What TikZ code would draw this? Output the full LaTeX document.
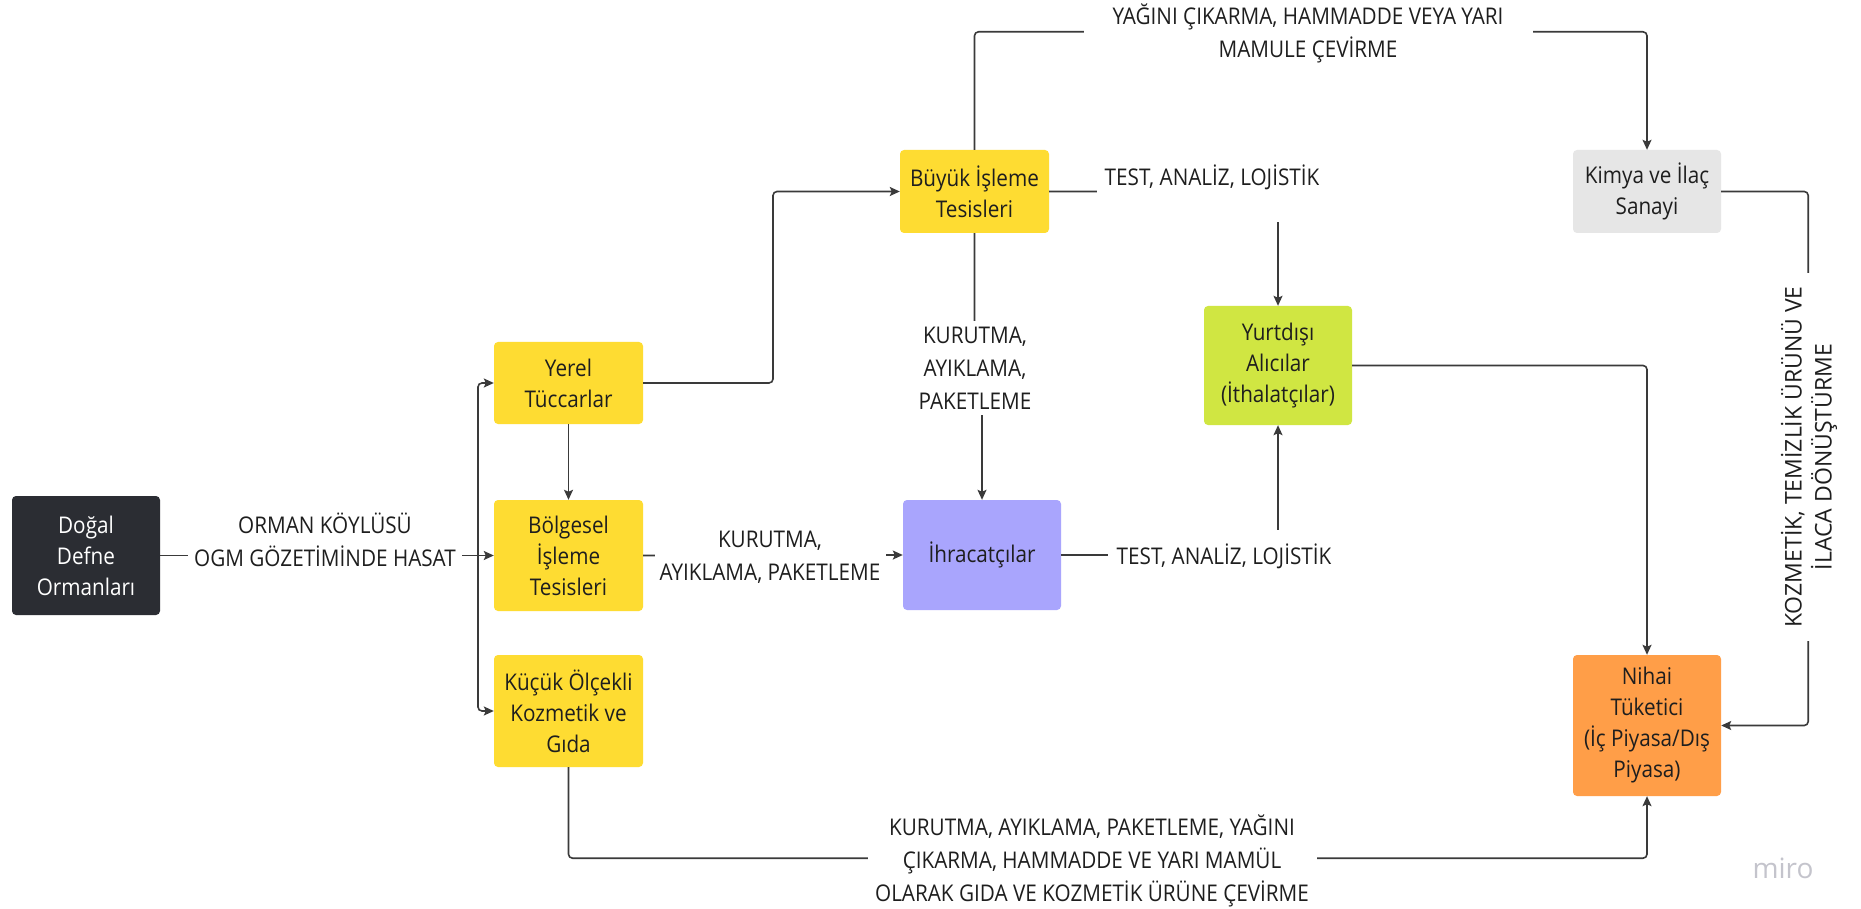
\documentclass[tikz,border=0pt]{standalone}
\usepackage{fontspec}
\setmainfont{Open Sans}[FakeStretch=0.9]
\newfontfamily\vfont{Open Sans}
\usetikzlibrary{arrows.meta}
\definecolor{ink}{HTML}{1E1E1E}
\definecolor{wire}{HTML}{3A3A3A}
\definecolor{ylw}{HTML}{FEDC32}
\definecolor{dark}{HTML}{2B2D33}
\definecolor{purp}{HTML}{A9A5FD}
\definecolor{lime}{HTML}{D0E642}
\definecolor{lgray}{HTML}{E6E6E6}
\definecolor{orng}{HTML}{FF9E48}
\definecolor{wm}{HTML}{C4C4CC}
\tikzset{
  box/.style={rounded corners=4pt, align=center, inner sep=0pt, text=ink,
    font=\fontsize{23}{31}\selectfont},
  lbl/.style={fill=white, align=center, inner sep=0pt, text=ink,
    font=\fontsize{23}{33}\selectfont},
  wireline/.style={draw=wire, line width=1.6pt, rounded corners=4pt},
  arr/.style={wireline, -{Stealth[length=10pt,width=9pt,inset=2pt]}}
}
\begin{document}
\begin{tikzpicture}[x=1pt,y=-1pt]
\useasboundingbox[fill=white] (0,0) rectangle (1861,909);

% boxes
\node[box, fill=dark, text=white, minimum width=148, minimum height=119] (dogal) at (86,555.5) {Doğal\\Defne\\Ormanları};
\node[box, fill=ylw, minimum width=149, minimum height=82] (yerel) at (568.5,383) {Yerel\\Tüccarlar};
\node[box, fill=ylw, minimum width=149, minimum height=111] (bolge) at (568.5,555.5) {Bölgesel\\İşleme\\Tesisleri};
\node[box, fill=ylw, minimum width=149, minimum height=112] (kucuk) at (568.5,711) {Küçük Ölçekli\\Kozmetik ve\\Gıda};
\node[box, fill=ylw, minimum width=149, minimum height=83] (buyuk) at (974.5,191.5) {Büyük İşleme\\Tesisleri};
\node[box, fill=purp, minimum width=158, minimum height=110] (ihr) at (982,555) {İhracatçılar};
\node[box, fill=lime, minimum width=148, minimum height=119] (yurt) at (1278,365.5) {Yurtdışı\\Alıcılar\\(İthalatçılar)};
\node[box, fill=lgray, minimum width=148, minimum height=83] (kimya) at (1647,191.5) {Kimya ve İlaç\\Sanayi};
\node[box, fill=orng, minimum width=148, minimum height=141] (nihai) at (1647,725.5) {Nihai\\Tüketici\\(İç Piyasa/Dış\\Piyasa)};

% junction coordinates
\coordinate (split) at (478,555.5);
\coordinate (ytop) at (773,383);
\coordinate (jog) at (974.5,368);

% connectors
\draw[arr] (dogal.east) -- (bolge.west);
\draw[arr] (split) |- (yerel.west);
\draw[arr] (split) |- (kucuk.west);
\draw[arr] (yerel.east) -- (ytop) |- (buyuk.west);
\draw[arr] (yerel.south) -- (bolge.north);
\draw[arr] (bolge.east) -- (ihr.west);
\draw[arr] (buyuk.south) -- (jog) -- ++(7.5,0) -- (ihr.north);
\draw[arr] (buyuk.north) -- ++(0,-118) -| (kimya.north);
\draw[arr] (buyuk.east) -| (yurt.north);
\draw[arr] (ihr.east) -| (yurt.south);
\draw[arr] (yurt.east) -| (nihai.north);
\draw[arr] (kimya.east) -- ++(87,0) |- (nihai.east);
\draw[arr] (kucuk.south) |- ++(200,91) -| (nihai.south);

% labels
\node[lbl, minimum width=274, minimum height=76] (l1) at (325,540) {ORMAN KÖYLÜSÜ\\OGM GÖZETİMİNDE HASAT};
\node[lbl, minimum width=231, minimum height=70] (l2) at (770,557) {KURUTMA,\\AYIKLAMA, PAKETLEME};
\node[lbl, minimum width=120, minimum height=94] (l3) at (975,368) {KURUTMA,\\AYIKLAMA,\\PAKETLEME};
\node[lbl, minimum width=449, minimum height=66] (l4) at (1308,33) {YAĞINI ÇIKARMA, HAMMADDE VEYA YARI\\MAMULE ÇEVİRME};
\node[lbl, minimum width=234, minimum height=82] (l5) at (1214,181) {};
\node[text=ink, inner sep=0pt, font=\fontsize{23}{31}\selectfont] (l5t) at (1212,177) {TEST, ANALİZ, LOJİSTİK};
\node[lbl, minimum width=232, minimum height=52] (l6) at (1224,556) {TEST, ANALİZ, LOJİSTİK};
\node[lbl, minimum width=449, minimum height=100] (l7) at (1092,861) {KURUTMA, AYIKLAMA, PAKETLEME, YAĞINI\\ÇIKARMA, HAMMADDE VE YARI MAMÜL\\OLARAK GIDA VE KOZMETİK ÜRÜNE ÇEVİRME};
\node[lbl, rotate=90, minimum width=368, minimum height=70, font=\vfont\fontsize{23}{30}\selectfont] (l8) at (1809,457) {KOZMETİK, TEMİZLİK ÜRÜNÜ VE\\İLACA DÖNÜŞTÜRME};

% watermark
\node[text=wm, inner sep=0pt, font=\vfont\fontsize{28}{30}\selectfont] (wmk) at (1783,868) {miro};
\end{tikzpicture}
\end{document}
